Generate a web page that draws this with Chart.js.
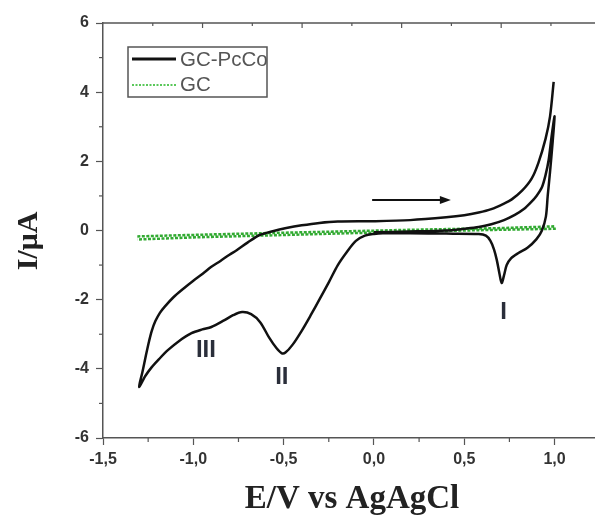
<!DOCTYPE html>
<html><head><meta charset="utf-8">
<script src="https://cdn.jsdelivr.net/npm/chart.js@4/dist/chart.umd.min.js"></script>
<style>
html,body{margin:0;padding:0;background:#fff;overflow:hidden;}
#wrap{width:595px;height:520px;overflow:hidden;position:relative;}
canvas{display:block;}
</style></head>
<body><div id="wrap"><canvas id="c" width="661" height="520"></canvas></div>
<script>
// ---- data (E in V vs Ag/AgCl, I in µA) ----
const seriesNames = ['GC-PcCo', 'GC'];
const xTitle = 'E/V vs AgAgCl';
const yTitle = 'I/μA';
const pccoE = [0.0,0.2,0.4,0.5,0.58,0.65,0.72,0.78,0.83,0.87,0.9,0.93,0.95,0.967,0.983,1.0,
  0.99,0.975,0.962,0.952,0.93,0.9,0.85,0.8,0.76,0.735,0.72,0.707,0.695,0.68,0.665,0.645,0.62,0.58,0.4,0.2,0.05,
  0.0,-0.05,-0.1,-0.15,-0.2,-0.25,-0.3,-0.35,-0.4,-0.45,-0.49,-0.51,-0.54,-0.58,-0.63,-0.68,-0.73,-0.78,-0.83,-0.9,-0.95,-1.01,-1.08,-1.141,-1.19,-1.23,-1.265,-1.3,
  -1.282,-1.262,-1.245,-1.23,-1.21,-1.185,-1.158,-1.11,-1.064,-1.0,-0.948,-0.9,-0.85,-0.8,-0.76,-0.7,-0.633,-0.56,-0.485,-0.4,-0.302,-0.2,0.0,0.2,0.4,0.5,0.58,0.65,0.72,0.763,0.82,0.873,0.91,0.95,0.975,0.995];
const pccoI = [-0.05,-0.03,0.0,0.05,0.1,0.18,0.3,0.45,0.62,0.82,1.0,1.25,1.6,2.03,2.7,3.3,
  2.6,1.7,1.0,0.4,0.0,-0.25,-0.5,-0.65,-0.8,-1.0,-1.3,-1.52,-1.25,-0.85,-0.55,-0.3,-0.15,-0.1,-0.09,-0.08,-0.08,
  -0.1,-0.15,-0.3,-0.62,-1.0,-1.5,-1.98,-2.45,-2.9,-3.3,-3.53,-3.55,-3.4,-3.1,-2.65,-2.42,-2.36,-2.45,-2.6,-2.79,-2.86,-2.97,-3.2,-3.46,-3.72,-3.95,-4.2,-4.52,
  -4.1,-3.6,-3.2,-2.9,-2.62,-2.38,-2.2,-1.93,-1.72,-1.45,-1.25,-1.05,-0.88,-0.7,-0.57,-0.35,-0.13,-0.02,0.07,0.15,0.22,0.26,0.27,0.3,0.38,0.44,0.52,0.62,0.78,0.9,1.15,1.5,1.95,2.65,3.3,4.3];
const gcE = [-1.31,-0.8,-0.3,0.2,0.7,1.0,1.0,0.5,0.0,-0.5,-1.0,-1.31];
const gcI = [-0.17,-0.1,-0.04,0.02,0.07,0.12,0.05,0.0,-0.06,-0.13,-0.2,-0.26];
const xTicks = [-1.5,-1.0,-0.5,0.0,0.5,1.0,1.5];
const yTicks = [-6,-4,-2,0,2,4,6];
const peakLabels = ['I','II','III'];
const peakE = [0.718,-0.51,-0.93];
const peakI = [-2.36,-4.24,-3.46];
const arrowE = [-0.01,0.426];
const arrowI = [0.88,0.88];

const zip = (a,b)=>a.map((v,i)=>({x:v,y:b[i]}));

const extras = {
  id:'extras',
  afterDraw(chart){
    const ctx = chart.ctx, xs = chart.scales.x, ys = chart.scales.y, xt = chart.scales.xt;
    const a = chart.chartArea;
    ctx.save();
    ctx.strokeStyle = '#555'; ctx.lineWidth = 1.5;
    ctx.beginPath(); ctx.moveTo(a.left, a.top); ctx.lineTo(a.right, a.top); ctx.stroke();
    ctx.lineWidth = 1.2;
    for (let v=-5; v<=5; v+=2){ const p=ys.getPixelForValue(v); ctx.beginPath(); ctx.moveTo(a.left-4,p); ctx.lineTo(a.left,p); ctx.stroke(); }
    for (let v=-1.25; v<=1.3; v+=0.5){ const p=xs.getPixelForValue(v); ctx.beginPath(); ctx.moveTo(p,a.bottom); ctx.lineTo(p,a.bottom+4); ctx.stroke(); }
    for (let k=1; k<=10; k++){ const p=xt.getPixelForValue(k); const L = (k%2===0)?5:3; ctx.beginPath(); ctx.moveTo(p,a.top); ctx.lineTo(p,a.top+L); ctx.stroke(); }
    // arrow
    const x0=xs.getPixelForValue(arrowE[0]), x1=xs.getPixelForValue(arrowE[1]), y0=ys.getPixelForValue(arrowI[0]);
    ctx.strokeStyle='#111'; ctx.fillStyle='#111'; ctx.lineWidth=2;
    ctx.beginPath(); ctx.moveTo(x0,y0); ctx.lineTo(x1-8,y0); ctx.stroke();
    ctx.beginPath(); ctx.moveTo(x1,y0); ctx.lineTo(x1-11,y0-4); ctx.lineTo(x1-11,y0+4); ctx.closePath(); ctx.fill();
    // peak labels
    ctx.fillStyle='#2a2e3a'; ctx.font='bold 24px "Liberation Sans", Arial, sans-serif';
    ctx.textAlign='center'; ctx.textBaseline='middle';
    peakLabels.forEach((t,i)=>ctx.fillText(t, xs.getPixelForValue(peakE[i]), ys.getPixelForValue(peakI[i])));
    // legend
    ctx.strokeStyle='#555'; ctx.lineWidth=1.5;
    ctx.strokeRect(128,47,139,50);
    ctx.strokeStyle='#111'; ctx.lineWidth=3; ctx.setLineDash([]);
    ctx.beginPath(); ctx.moveTo(132,59); ctx.lineTo(176,59); ctx.stroke();
    ctx.strokeStyle='rgb(90,200,90)'; ctx.lineWidth=2; ctx.setLineDash([2,1.5]);
    ctx.beginPath(); ctx.moveTo(132,85); ctx.lineTo(176,85); ctx.stroke();
    ctx.setLineDash([]);
    ctx.fillStyle='#555'; ctx.font='20.5px "Liberation Sans", Arial, sans-serif'; ctx.textAlign='left';
    ctx.fillText(seriesNames[0],180,60);
    ctx.fillText(seriesNames[1],180,85);
    // axis titles
    ctx.fillStyle='#222';
    ctx.font='bold 33px "Liberation Serif", "Times New Roman", serif';
    ctx.textAlign='center'; ctx.textBaseline='alphabetic';
    ctx.fillText(xTitle, 352, 508);
    ctx.save();
    ctx.translate(37, 241); ctx.rotate(-Math.PI/2);
    ctx.font='bold 30px "Liberation Serif", "Times New Roman", serif';
    ctx.fillText(yTitle, 0, 0);
    ctx.restore();
    ctx.restore();
  }
};

new Chart(document.getElementById('c'), {
  type:'scatter',
  data:{datasets:[
    {label:seriesNames[0], data:zip(pccoE,pccoI), showLine:true, borderColor:'#111', borderWidth:2.5, pointRadius:0, tension:0.3, fill:false, order:1},
    {label:seriesNames[1], data:zip(gcE,gcI), showLine:true, borderColor:'rgb(50,170,50)', borderWidth:2.5, borderDash:[3,1.5], pointRadius:0, tension:0, fill:false, order:2}
  ]},
  options:{
    responsive:false, devicePixelRatio:1, animation:false,
    layout:{padding:{left:0,right:7,top:23,bottom:0}},
    plugins:{legend:{display:false}, tooltip:{enabled:false}},
    scales:{
      x:{type:'linear', position:'bottom', min:-1.5, max:1.5,
        afterBuildTicks:s=>{s.ticks = xTicks.map(v=>({value:v}));},
        afterFit:s=>{s.height=82;},
        ticks:{color:'#333', font:{family:'"Liberation Sans", Arial', size:16, weight:'bold'}, padding:5, callback:v=>v.toFixed(1).replace('.',',')},
        grid:{drawOnChartArea:false, tickLength:7, color:'#555', tickWidth:1.2},
        border:{color:'#555', width:1.5},
        title:{display:false}
      },
      xt:{type:'linear', display:false, min:0, max:10.887},
      y:{type:'linear', position:'left', min:-6, max:6,
        afterBuildTicks:s=>{s.ticks = yTicks.map(v=>({value:v}));},
        afterFit:s=>{s.width=103;},
        ticks:{color:'#333', font:{family:'"Liberation Sans", Arial', size:16, weight:'bold'}, padding:7},
        grid:{drawOnChartArea:false, tickLength:7, color:'#555', tickWidth:1.2},
        border:{color:'#555', width:1.5},
        title:{display:false}
      }
    }
  },
  plugins:[extras]
});
</script></body></html>
